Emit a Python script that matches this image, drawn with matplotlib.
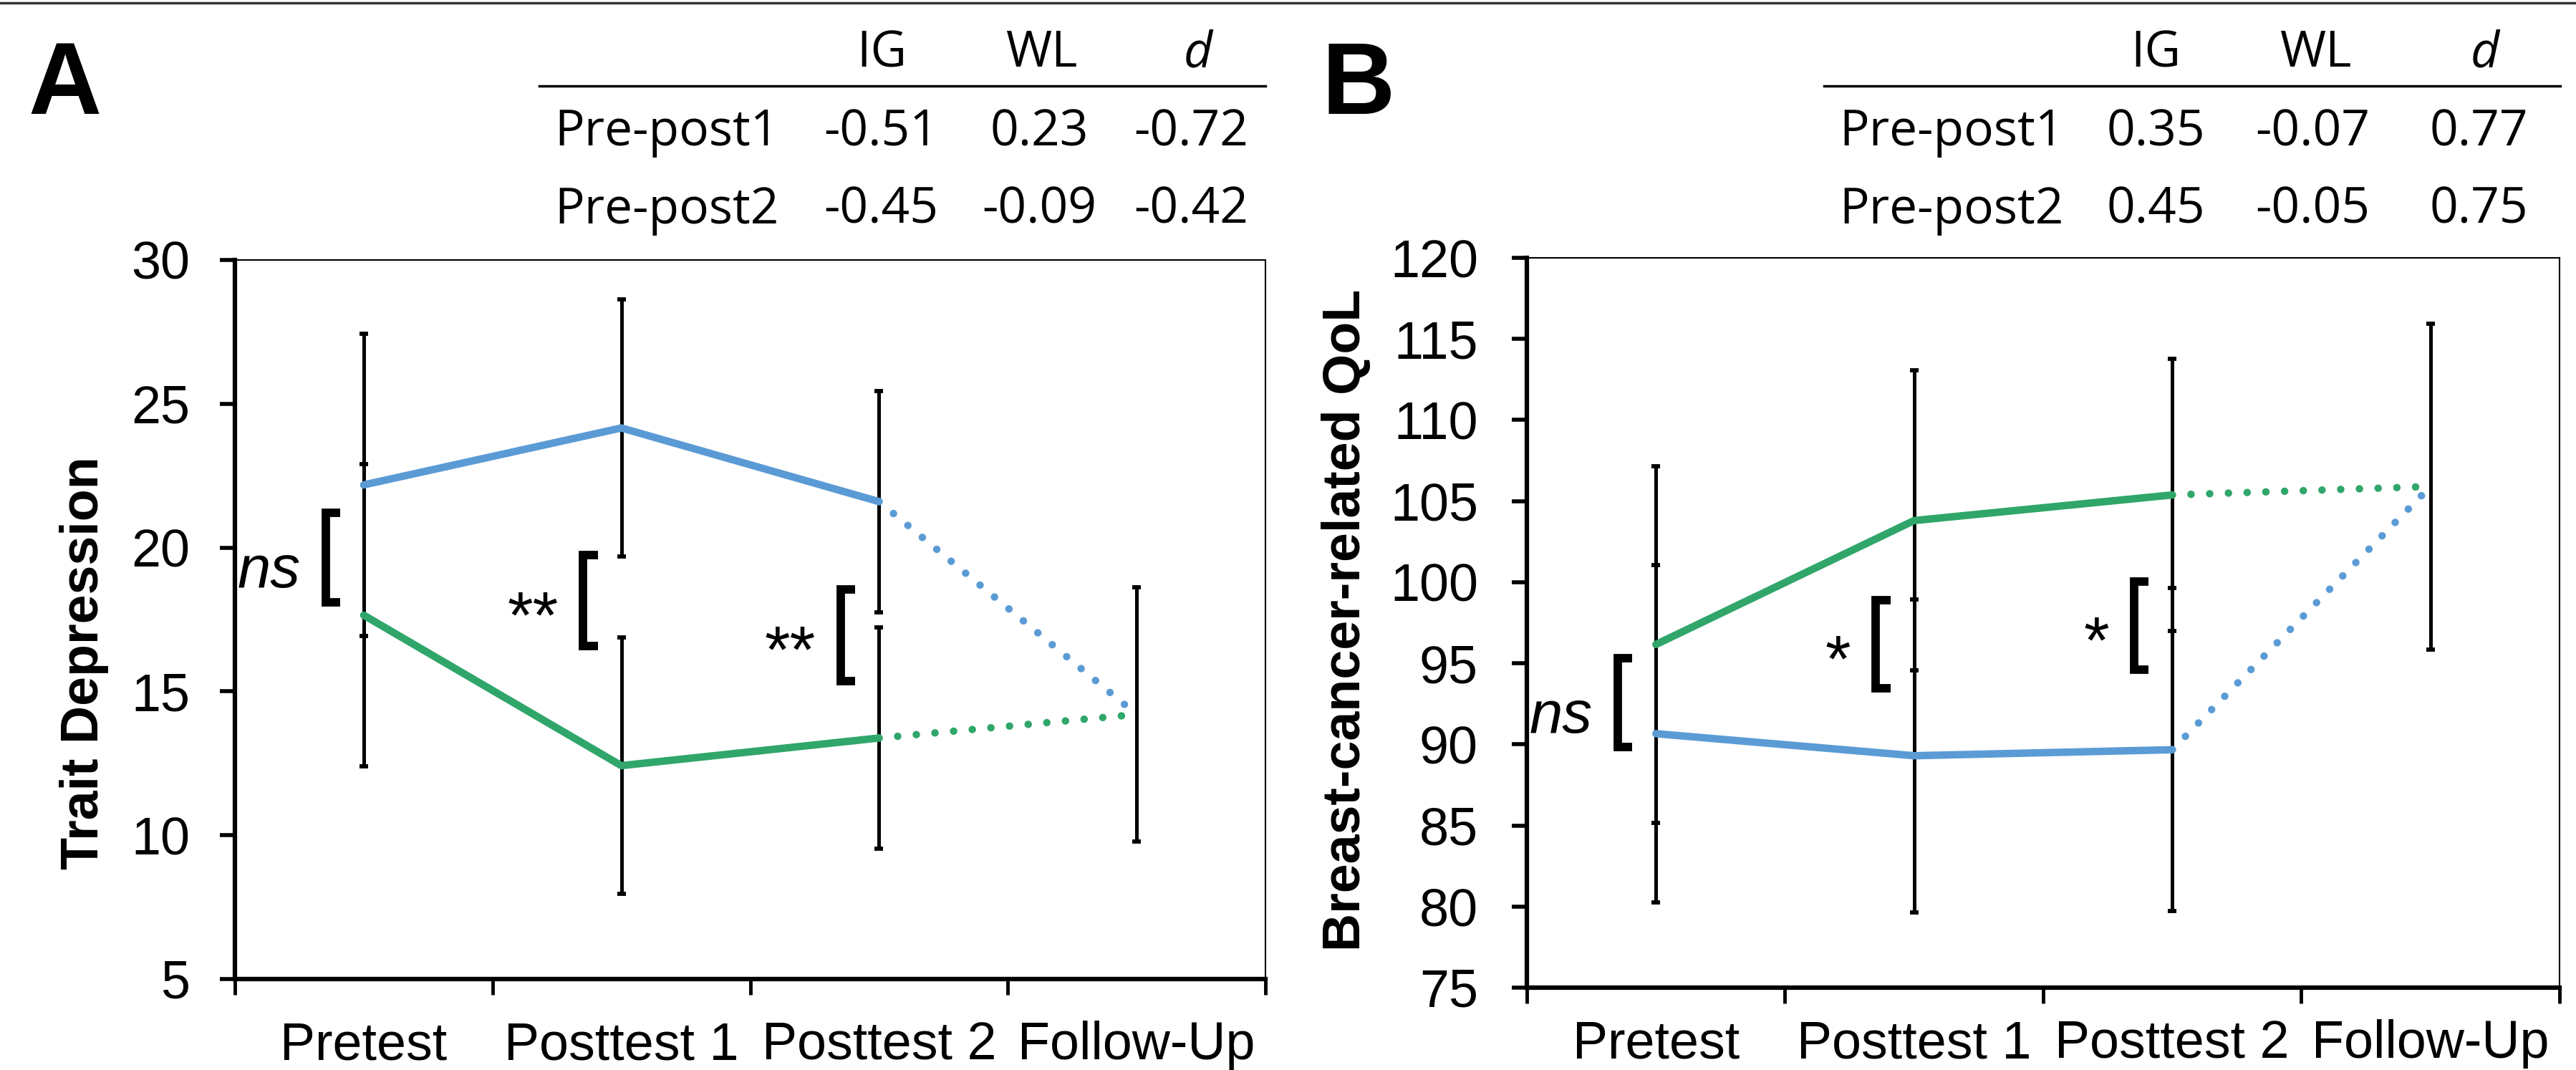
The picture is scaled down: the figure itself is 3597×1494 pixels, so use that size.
import numpy as np
import matplotlib
matplotlib.use('Agg')
import matplotlib.pyplot as plt
from matplotlib.lines import Line2D

plt.rcParams['font.family'] = ['Liberation Sans', 'DejaVu Sans']

W, H = 3598, 1494

timepoints = ['Pretest', 'Posttest 1', 'Posttest 2', 'Follow-Up']

# panel A - trait depression (IG green, WL blue), follow-up is pooled
dep_ig = [17.65, 12.42, 13.38]
dep_ig_err = [5.25, 4.45, 3.85]
dep_wl = [22.18, 24.16, 21.6]
dep_wl_err = [5.25, 4.47, 3.85]
dep_fu = 14.2
dep_fu_err = 4.42
dep_brackets = [(21.21, 18.1), (19.74, 16.58), (18.55, 15.36)]
dep_sig = ['ns', '**', '**']

# panel B - breast-cancer-related QoL
qol_ig = [96.16, 103.8, 105.38]
qol_ig_err = [11.0, 9.25, 8.4]
qol_wl = [90.66, 89.3, 89.67]
qol_wl_err = [10.4, 9.65, 9.95]
qol_fu = 105.9
qol_fu_err = 10.05
qol_brackets = [(95.31, 89.83), (98.89, 93.45), (100.04, 94.6)]
qol_sig = ['ns', '*', '*']

# effect size tables
table_rows = ['Pre-post1', 'Pre-post2']
table_cols = ['IG', 'WL', 'd']
dep_table = [['-0.51', '0.23', '-0.72'], ['-0.45', '-0.09', '-0.42']]
qol_table = [['0.35', '-0.07', '0.77'], ['0.45', '-0.05', '0.75']]

BLUE = '#5B9BD5'
GREEN = '#30A66A'
LW = 7.5
DOTS = (0, (0.01, 2.5))


def fx(px):
    return px / W


def fy(py):
    return 1 - py / H


fig = plt.figure(figsize=(W / 100, H / 100), dpi=100)


def panel(rect, ig, ig_err, wl, wl_err, fu, fu_err, brackets, sig, ylim, yticks, ypad, xpad):
    ax = fig.add_axes(rect)
    x = np.arange(3)
    eb = dict(fmt='none', ecolor='black', elinewidth=3.6, capsize=4.5, capthick=4.2, zorder=2)
    ax.errorbar(x, wl, yerr=wl_err, **eb)
    ax.errorbar(x, ig, yerr=ig_err, **eb)
    ax.errorbar([3], [fu], yerr=[fu_err], **eb)

    ax.plot(x, wl, color=BLUE, lw=LW, solid_capstyle='round', solid_joinstyle='round', zorder=3)
    ax.plot(x, ig, color=GREEN, lw=LW, solid_capstyle='round', solid_joinstyle='round', zorder=3)
    ax.plot([2, 3], [wl[2], fu], color=BLUE, lw=LW, ls=DOTS, dash_capstyle='round', zorder=3)
    ax.plot([2, 3], [ig[2], fu], color=GREEN, lw=LW, ls=DOTS, dash_capstyle='round', zorder=3)

    # significance brackets
    for i, ((top, bot), s) in enumerate(zip(brackets, sig)):
        xv, xa = i - 0.148, i - 0.092
        ax.plot([xa, xv, xv, xa], [top, top, bot, bot], color='black', lw=8.5,
                solid_joinstyle='miter', solid_capstyle='butt', zorder=4)
        mid = (top + bot) / 2
        if s == 'ns':
            ax.annotate(s, (i - 0.245, mid), xytext=(0, -14), textcoords='offset points',
                        ha='right', va='center', fontsize=60, style='italic')
        else:
            ax.annotate(s, (i - 0.245, mid), xytext=(0, -20), textcoords='offset points',
                        ha='right', va='center', fontsize=66)

    ax.set_xlim(-0.5, 3.5)
    ax.set_ylim(*ylim)
    ax.set_yticks(yticks)
    ax.set_xticks([-0.5, 0.5, 1.5, 2.5, 3.5])
    ax.set_xticklabels([])
    ax.set_xticks(range(4), minor=True)
    ax.set_xticklabels(timepoints, minor=True)
    ax.tick_params(axis='y', direction='out', length=15, width=4, pad=ypad, labelsize=53)
    ax.tick_params(axis='x', which='major', direction='out', length=16, width=3.5)
    ax.tick_params(axis='x', which='minor', length=0, pad=xpad, labelsize=53)
    for side in ['left', 'bottom']:
        ax.spines[side].set_linewidth(4.5)
    for side in ['top', 'right']:
        ax.spines[side].set_linewidth(1.5)
    return ax


panel([fx(328), fy(1367), fx(1767 - 328), (1367 - 363) / H],
      dep_ig, dep_ig_err, dep_wl, dep_wl_err, dep_fu, dep_fu_err,
      dep_brackets, dep_sig, (5, 30), np.arange(5, 31, 5), 30, 42)
panel([fx(2132), fy(1379), fx(3574 - 2132), (1379 - 360) / H],
      qol_ig, qol_ig_err, qol_wl, qol_wl_err, qol_fu, qol_fu_err,
      qol_brackets, qol_sig, (75, 120), np.arange(75, 121, 5), 34, 32)

fig.text(fx(118), fy(926), 'Trait Depression', rotation=90, ha='center', va='center',
         fontsize=53, fontweight='bold')
fig.text(fx(1880), fy(866), 'Breast-cancer-related QoL', rotation=90, ha='center', va='center',
         fontsize=53, fontweight='bold')

# panel letters
for lx, letter in [(39, 'A'), (1846, 'B')]:
    fig.text(fx(lx), fy(159), letter, ha='left', va='baseline', fontsize=102, fontweight='bold',
             family=['Liberation Sans Narrow', 'Liberation Sans', 'DejaVu Sans'])

# tables
tfont = ['Open Sans', 'DejaVu Sans']


def table(values, row_x, col_x, head_x, rule):
    for cx, c in zip(head_x, table_cols):
        fig.text(fx(cx), fy(93), c, ha='center', va='baseline', fontsize=50, family=tfont,
                 style='italic' if c == 'd' else 'normal')
    fig.add_artist(Line2D([fx(rule[0]), fx(rule[1])], [fy(120), fy(120)],
                          transform=fig.transFigure, color='black', lw=2.5))
    for ry, name, vals in zip([203, 312], table_rows, values):
        fig.text(fx(row_x), fy(ry), name, ha='left', va='baseline', fontsize=50, family=tfont)
        for cx, v in zip(col_x, vals):
            fig.text(fx(cx), fy(ry), v, ha='center', va='baseline', fontsize=50, family=tfont)


table(dep_table, 774, [1230, 1451, 1663], [1231, 1455, 1673], (753, 1767))
table(qol_table, 2568, [3010, 3229, 3461], [3010, 3234, 3470], (2547, 3575))

# thin rule at the very top of the figure
fig.add_artist(Line2D([0, 1], [fy(4), fy(4)], transform=fig.transFigure, color='#333333', lw=2.5))

fig.savefig('out.png', dpi=100)
